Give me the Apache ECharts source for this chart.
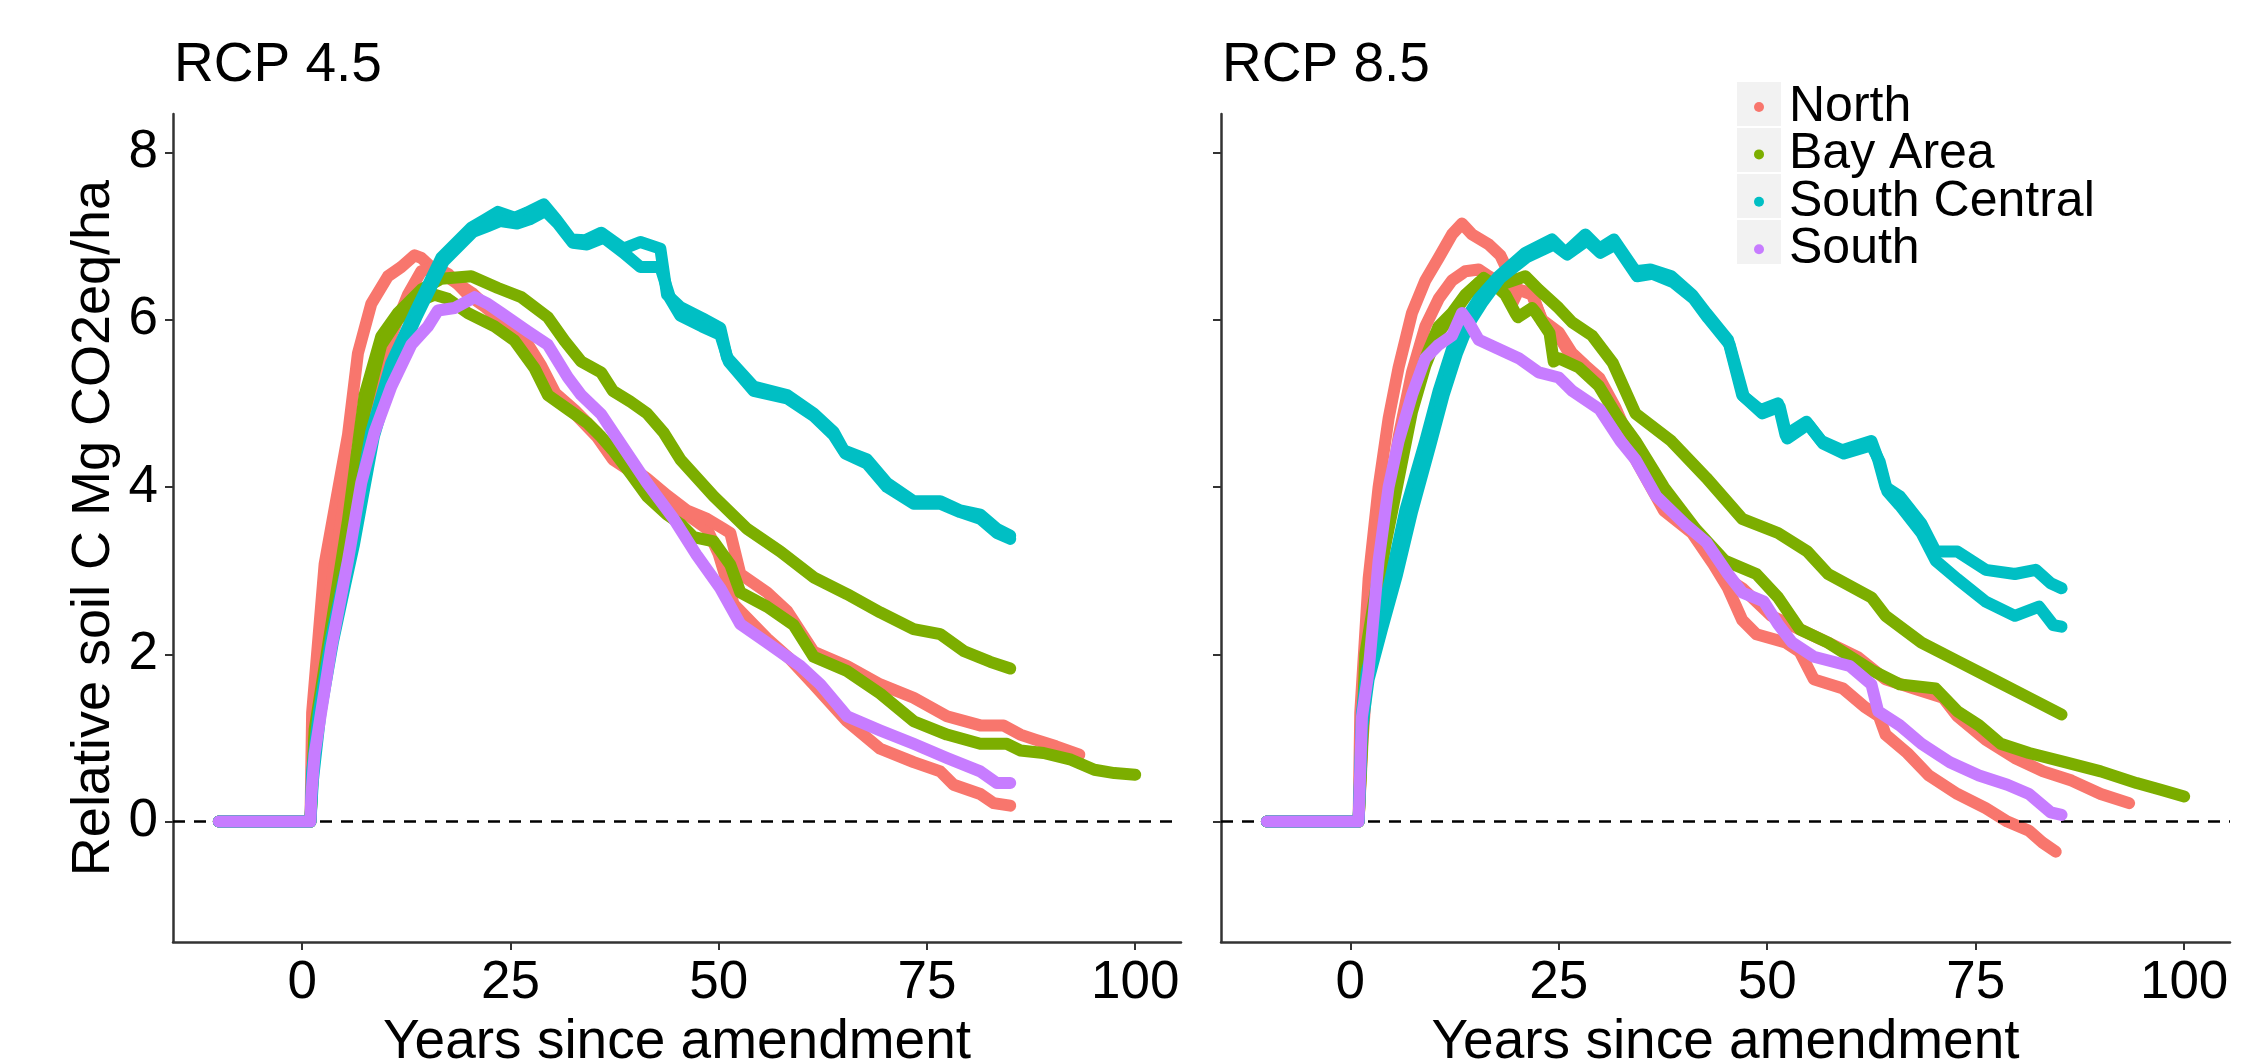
<!DOCTYPE html>
<html><head><meta charset="utf-8">
<script src="https://cdn.jsdelivr.net/npm/echarts@6/dist/echarts.min.js"></script>
<style>html,body{margin:0;padding:0;background:#fff}#c{width:2268px;height:1059px}</style>
</head><body><div id="c"></div>
<script>
const regions = ['North', 'Bay Area', 'South Central', 'South'];
const regionColors = ['#F8766D', '#7CAE00', '#00BFC4', '#C77CFF'];
const panelTitles = ['RCP 4.5', 'RCP 8.5'];
const xTicks = [0, 25, 50, 75, 100];
const yTicks = [0, 2, 4, 6, 8];
const xLabel = 'Years since amendment';
const yLabel = 'Relative soil C Mg CO2eq/ha';

// ---------- RCP 4.5 ----------
const rcp45NorthA = [[-10,0],[1,0],[1.2,1.3],[2.7,3.08],[4.3,3.96],[5.5,4.62],[6.7,5.6],[8.3,6.19],[10.3,6.52],[11.9,6.63],[13.5,6.77],[14.3,6.74],[15.5,6.63],[16.7,6.56],[19.3,6.39],[20.4,6.32],[23.5,6.03],[26.3,5.81],[28.7,5.42],[30.4,5.1],[32.7,4.88],[35.4,4.6],[37.3,4.33],[41.4,4.06],[43.8,3.84],[46.2,3.67],[48.6,3.5],[50,3.2],[51.8,2.6],[55.8,2.19],[58.5,1.95],[61.4,1.64],[65.4,1.2],[69.4,0.87],[73.4,0.71],[76.6,0.6],[78.2,0.44],[81.4,0.33],[83,0.22],[85,0.19]];
const rcp45NorthB = [[-10,0],[1,0],[1.5,1.2],[3,2.5],[5,3.8],[7,4.6],[9,5.3],[10.7,5.81],[12.7,6.3],[14.3,6.58],[15.9,6.63],[17.5,6.55],[19.9,6.3],[22,6.15],[24,5.98],[26.5,5.8],[28.7,5.45],[30.4,5.12],[32.7,4.92],[35.4,4.65],[37.3,4.4],[41.4,4.1],[43.8,3.9],[46.2,3.72],[48.6,3.62],[50.6,3.5],[51.4,3.45],[52.6,2.96],[55.8,2.74],[58.2,2.52],[61.4,2.03],[65.4,1.86],[69.4,1.64],[73.4,1.48],[77.4,1.26],[81.4,1.15],[84.2,1.15],[86.2,1.04],[88,0.98],[90.5,0.9],[93.3,0.8]];
const rcp45BayA = [[-10,0],[1,0],[1.5,1.1],[3.5,2.35],[5.5,3.6],[7.5,5.1],[9.5,5.8],[11.5,6.08],[14.3,6.36],[16.7,6.49],[20.3,6.52],[23.5,6.38],[26.3,6.27],[29.5,6.03],[31.5,5.75],[33.5,5.5],[35.9,5.37],[37.3,5.15],[39.4,5.02],[41.4,4.88],[43.4,4.65],[45.4,4.33],[49.4,3.89],[53.4,3.5],[57.4,3.23],[61.4,2.92],[65.4,2.72],[69.4,2.5],[73.4,2.3],[76.6,2.24],[79.4,2.04],[82.6,1.91],[85,1.83]];
const rcp45BayB = [[-10,0],[1,0],[1.5,1.0],[3.5,2.3],[5.5,3.5],[7.5,4.9],[9.5,5.7],[11.5,6.0],[13.5,6.2],[15.9,6.3],[17.5,6.25],[19.9,6.08],[23.1,5.92],[25.5,5.75],[27.9,5.42],[29.5,5.1],[31.9,4.93],[34.3,4.76],[35.9,4.6],[37.3,4.44],[39.5,4.15],[41.4,3.89],[43.8,3.67],[45.4,3.56],[47,3.4],[49.4,3.35],[51.4,3.07],[52.6,2.74],[55.8,2.57],[59,2.35],[61.4,1.97],[65.4,1.8],[69.4,1.53],[73.4,1.2],[77.4,1.04],[81.4,0.93],[84.6,0.93],[86.2,0.85],[89,0.82],[92.3,0.74],[95.1,0.62],[97.5,0.58],[100,0.56]];
const rcp45SouthCentralA = [[-10,0],[1,0],[1.2,0.6],[2,1.3],[3.5,2.2],[5,2.9],[6,3.3],[7,3.95],[8.3,4.66],[10.7,5.48],[13.5,6.08],[16.7,6.74],[20.3,7.1],[22,7.2],[23.5,7.29],[25.5,7.22],[27,7.28],[29,7.38],[30.5,7.2],[32.3,6.96],[34,6.95],[35.9,7.04],[38.6,6.85],[40.6,6.93],[43,6.85],[43.8,6.3],[45.4,6.15],[48,6.02],[50.2,5.9],[51,5.55],[54.2,5.2],[58.2,5.1],[61.4,4.88],[63.8,4.66],[65,4.44],[67.8,4.33],[70.2,4.05],[73.4,3.83],[76.6,3.83],[79,3.72],[81.4,3.67],[83.4,3.5],[85,3.42]];
const rcp45SouthCentralB = [[-10,0],[1,0],[1.3,0.5],[2.2,1.3],[3.7,2.15],[5.2,2.85],[6.2,3.3],[7.3,3.9],[8.6,4.6],[11,5.42],[13.8,6.05],[17,6.7],[20.5,7.05],[22.3,7.12],[23.8,7.18],[25.8,7.15],[27.3,7.2],[29.2,7.3],[30.7,7.15],[32.5,6.92],[34.2,6.9],[36.2,6.98],[38.6,6.8],[40.6,6.63],[43,6.63],[44.2,6.25],[45.4,6.05],[48,5.92],[50.2,5.82],[51.2,5.5],[54.2,5.15],[58.2,5.06],[61.4,4.85],[63.8,4.62],[65.2,4.4],[67.8,4.28],[70.2,4.0],[73.4,3.8],[76.6,3.8],[79,3.7],[81.4,3.62],[83.4,3.45],[85,3.38]];
const rcp45South = [[-10,0],[1,0],[1.1,0.3],[1.5,0.81],[3.5,2.08],[5.5,3.12],[7.1,4.05],[8.7,4.66],[10.7,5.2],[13.1,5.7],[15.1,5.92],[16.3,6.11],[18.3,6.14],[20.7,6.27],[22.3,6.19],[23.9,6.08],[27.1,5.86],[29.5,5.7],[31.9,5.31],[33.5,5.1],[35.9,4.87],[37.3,4.66],[41.4,4.05],[44.6,3.62],[47.4,3.18],[50.2,2.79],[52.6,2.36],[55.8,2.14],[59.8,1.86],[62.2,1.64],[65.4,1.26],[69.4,1.09],[73.4,0.93],[77.4,0.76],[81.4,0.6],[83.4,0.46],[85,0.46]];

// ---------- RCP 8.5 ----------
const rcp85NorthA = [[-10,0],[1,0],[1.2,1.3],[2.2,2.9],[3.4,4.0],[4.6,4.82],[5.8,5.43],[7.4,6.08],[9,6.47],[10.6,6.74],[12.2,7.02],[13.4,7.15],[14.6,7.02],[16.6,6.9],[18,6.77],[19,6.56],[20.1,6.36],[21.8,6.32],[23,5.98],[25,5.81],[26.6,5.54],[28.2,5.43],[29.9,5.26],[31.8,4.88],[34.2,4.33],[37.6,3.72],[41,3.45],[43.6,3.07],[45.3,2.79],[47,2.41],[48.7,2.24],[52.2,2.14],[53.9,2.03],[55.6,1.7],[59.1,1.59],[61.7,1.37],[63.4,1.26],[64.2,1.04],[66.8,0.82],[69.4,0.55],[72.8,0.33],[76.2,0.16],[78.8,0.0],[81.4,-0.11],[83,-0.25],[84.6,-0.36]];
const rcp85NorthB = [[-10,0],[1,0],[1.5,1.0],[2.2,2.0],[4.2,3.6],[5.8,4.6],[7.4,5.37],[9,5.92],[10.6,6.25],[12.2,6.47],[13.8,6.58],[15.4,6.6],[16.6,6.52],[18.6,6.4],[19.4,6.19],[20.2,6.36],[21.8,6.3],[23,6.0],[25,5.85],[26.6,5.6],[28.2,5.45],[29.9,5.3],[31.8,4.95],[34.2,4.4],[37.6,3.8],[41,3.5],[43.6,3.15],[45.3,2.9],[47,2.79],[50.5,2.46],[53.9,2.3],[57.3,2.14],[60.8,1.97],[64.2,1.7],[67.6,1.59],[71.1,1.48],[72.8,1.26],[76.2,0.98],[79.7,0.76],[83.1,0.6],[86.5,0.49],[90,0.33],[93.4,0.22]];
const rcp85BayA = [[-10,0],[1,0],[1.5,1.2],[1.8,2.0],[4.2,3.45],[5.8,4.22],[7.4,4.99],[9,5.54],[10.6,5.92],[12.2,6.08],[13.8,6.3],[15.5,6.45],[17.5,6.4],[19,6.45],[21,6.52],[22.6,6.36],[25,6.14],[26.6,5.97],[29,5.81],[31.5,5.48],[34.2,4.88],[38.5,4.55],[42.7,4.11],[47,3.62],[51.3,3.45],[54.8,3.23],[57.3,2.96],[62.5,2.68],[64.2,2.46],[68.5,2.14],[72.8,1.92],[77.1,1.7],[81.4,1.48],[85.3,1.28]];
const rcp85BayB = [[-10,0],[1,0],[1.5,1.1],[2,1.9],[4.2,3.3],[5.8,4.1],[7.4,4.9],[9,5.45],[10.6,5.85],[12.2,6.05],[14,6.3],[16,6.5],[17.5,6.4],[18.6,6.3],[19.8,6.08],[20.1,6.03],[21.8,6.14],[22.3,6.08],[23.9,5.84],[24.4,5.5],[25,5.54],[27.4,5.43],[29.8,5.21],[31.8,4.88],[34.2,4.55],[37.6,4.0],[41.4,3.5],[44.9,3.12],[48.7,2.96],[51.3,2.68],[53.9,2.3],[57.3,2.14],[62.5,1.81],[65.9,1.64],[70.2,1.59],[72.8,1.32],[75.4,1.15],[78,0.93],[81.4,0.82],[85.7,0.71],[90,0.6],[94.3,0.46],[97.2,0.38],[100,0.3]];
const rcp85SouthCentralA = [[-10,0],[1,0],[1.4,1.3],[2,1.8],[3.4,2.3],[5,2.98],[6.6,3.72],[9,4.55],[10.6,5.15],[12.2,5.65],[13.8,6.0],[15.4,6.25],[17.8,6.52],[21,6.8],[24.2,6.96],[25.8,6.8],[28.2,7.02],[29.9,6.85],[31.6,6.96],[34.2,6.58],[36,6.6],[38.5,6.52],[41,6.3],[42.7,6.08],[45.3,5.76],[47,5.1],[49.2,4.92],[51.3,5.0],[52.2,4.62],[54.7,4.78],[56.5,4.55],[59,4.44],[62.5,4.55],[63.3,4.33],[64.2,4.0],[65.9,3.89],[68.5,3.56],[70.2,3.23],[72.8,3.23],[76.2,3.01],[79.7,2.96],[82.2,3.01],[84,2.85],[85.3,2.79]];
const rcp85SouthCentralB = [[-10,0],[1,0],[1.4,1.1],[2.2,1.7],[3.8,2.3],[5.6,2.95],[7.4,3.7],[9.6,4.5],[11.2,5.1],[12.8,5.6],[14.2,5.95],[15.8,6.2],[18,6.5],[21.2,6.75],[24.4,6.9],[26,6.78],[28.4,6.95],[30,6.8],[31.8,6.9],[34.4,6.52],[36.2,6.55],[38.7,6.45],[41.2,6.25],[42.9,6.02],[45.5,5.7],[47.2,5.08],[49.4,4.88],[51.5,4.96],[52.4,4.58],[54.9,4.75],[56.7,4.52],[59.2,4.4],[62.5,4.5],[63.5,4.3],[64.4,3.95],[65.9,3.78],[68.5,3.45],[70.2,3.12],[72.8,2.9],[76.2,2.63],[79.7,2.46],[82.6,2.57],[84.3,2.35],[85.3,2.33]];
const rcp85South = [[-10,0],[1,0],[1.1,0.3],[1.4,1.25],[2.2,1.8],[3.4,3.12],[4.6,4.0],[5.8,4.55],[7.4,5.1],[9,5.54],[10.6,5.7],[12.2,5.81],[13.4,6.08],[14.2,5.97],[15.4,5.76],[17.8,5.65],[20.2,5.54],[22.6,5.37],[25,5.31],[26.6,5.15],[29,4.99],[29.9,4.93],[32.4,4.55],[34.2,4.33],[36.7,3.89],[40.1,3.56],[42.7,3.34],[45.3,2.96],[47,2.74],[49.6,2.63],[51.3,2.36],[53,2.14],[55.6,1.97],[59.9,1.86],[62.5,1.64],[63.3,1.32],[65.9,1.15],[68.5,0.93],[71.9,0.71],[75.4,0.55],[78.8,0.44],[81.4,0.33],[84,0.11],[85.3,0.08]];

const panelLines = [
  [['North', rcp45NorthA], ['North', rcp45NorthB], ['Bay Area', rcp45BayA], ['Bay Area', rcp45BayB],
   ['South Central', rcp45SouthCentralA], ['South Central', rcp45SouthCentralB], ['South', rcp45South]],
  [['North', rcp85NorthA], ['North', rcp85NorthB], ['Bay Area', rcp85BayA], ['Bay Area', rcp85BayB],
   ['South Central', rcp85SouthCentralA], ['South Central', rcp85SouthCentralB], ['South', rcp85South]]
];

const FONT = '"Liberation Sans", Arial, sans-serif';
const AXIS_COLOR = '#333333';

const grids = [
  { left: 173, top: 114, width: 1008, height: 828, outerBoundsMode: 'none', containLabel: false },
  { left: 1221, top: 114, width: 1009, height: 828, outerBoundsMode: 'none', containLabel: false }
];

const xAxes = grids.map((g, i) => ({
  type: 'value', gridIndex: i, min: -15.5, max: 105.5,
  name: xLabel, nameLocation: 'middle', nameGap: 63,
  nameTextStyle: { fontSize: 55, color: '#000', fontFamily: FONT },
  axisLine: { show: true, onZero: false, lineStyle: { color: AXIS_COLOR, width: 2.5 } },
  axisTick: { show: true, length: 8, customValues: xTicks, lineStyle: { color: AXIS_COLOR, width: 2 } },
  axisLabel: { customValues: xTicks, fontSize: 53, color: '#000', fontFamily: FONT, margin: 15 },
  splitLine: { show: false }
}));

const yAxes = grids.map((g, i) => ({
  type: 'value', gridIndex: i, min: -1.44, max: 8.46,
  name: i === 0 ? yLabel : '', nameLocation: 'middle', nameGap: 52, nameRotate: 90,
  nameTextStyle: { fontSize: 54, color: '#000', fontFamily: FONT },
  axisLine: { show: true, onZero: false, lineStyle: { color: AXIS_COLOR, width: 2.5 } },
  axisTick: { show: true, length: 8, customValues: yTicks, lineStyle: { color: AXIS_COLOR, width: 2 } },
  axisLabel: { show: i === 0, customValues: yTicks, fontSize: 53, color: '#000', fontFamily: FONT, margin: 15 },
  splitLine: { show: false }
}));

const series = [];
panelLines.forEach((lines, p) => {
  lines.forEach(([region, data]) => {
    const ci = regions.indexOf(region);
    series.push({
      type: 'line', name: region, xAxisIndex: p, yAxisIndex: p,
      data: data, showSymbol: false, symbol: 'circle', smooth: false,
      color: regionColors[ci],
      lineStyle: { width: 12, color: regionColors[ci], cap: 'round', join: 'round' },
      z: 2 + ci, silent: true
    });
  });
  series.push({
    type: 'line', name: 'zero' + p, xAxisIndex: p, yAxisIndex: p, data: [], z: 20,
    markLine: {
      silent: true, symbol: ['none', 'none'], label: { show: false },
      lineStyle: { color: '#000', width: 2.5, type: [12, 9] },
      data: [{ yAxis: 0 }], animation: false
    }
  });
});

const titles = panelTitles.map((t, i) => ({
  text: t, left: grids[i].left + 1, top: 38, padding: 0,
  textStyle: { fontSize: 55, fontWeight: 'normal', color: '#000', fontFamily: FONT, lineHeight: 55 }
}));

const legendBoxes = regions.map((r, i) => ({
  type: 'rect', left: 1737, top: 82 + 46 * i, z: 0,
  shape: { width: 44, height: 44 }, style: { fill: '#F2F2F2' }
}));

const chart = echarts.init(document.getElementById('c'), null, { renderer: 'canvas' });
chart.setOption({
  animation: false,
  backgroundColor: '#ffffff',
  title: titles,
  grid: grids,
  xAxis: xAxes,
  yAxis: yAxes,
  legend: {
    data: regions, left: 1754, top: 82, orient: 'vertical', itemGap: -2.6,
    itemWidth: 10, itemHeight: 10, icon: 'circle', selectedMode: false, padding: 0,
    textStyle: { fontSize: 50, color: '#000', fontFamily: FONT, padding: [0, 0, 0, 20] }
  },
  graphic: legendBoxes,
  series: series
});
</script></body></html>
